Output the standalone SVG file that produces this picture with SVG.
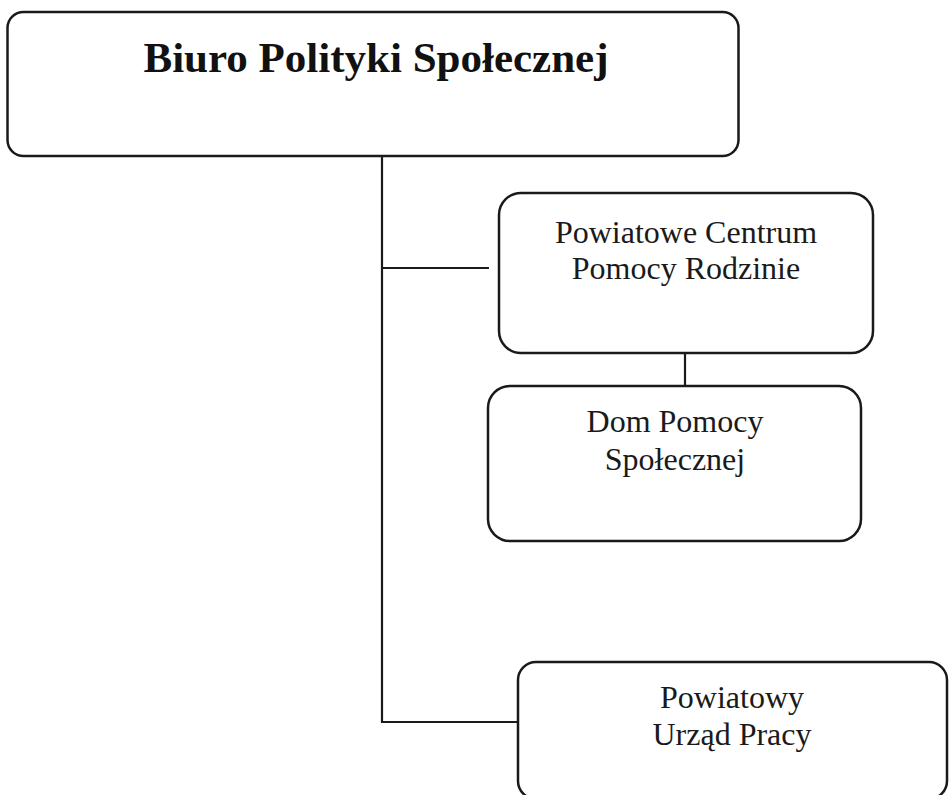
<svg xmlns="http://www.w3.org/2000/svg" width="949" height="795" viewBox="0 0 949 795">
<style>
.box{fill:#fff;stroke:#1a1a1a;stroke-width:2.5}
.ln{stroke:#1a1a1a;stroke-width:2.2;fill:none}
.t{font-family:"Liberation Serif","Times New Roman",serif;font-size:32px;fill:#1a1a1a;text-anchor:middle}
.h{font-family:"Liberation Serif","Times New Roman",serif;font-size:43px;font-weight:bold;fill:#111;text-anchor:middle}
</style>
<rect width="949" height="795" fill="#fff"/>
<g id="connectors">
<line class="ln" x1="382" y1="156" x2="382" y2="723"/>
<line class="ln" x1="382" y1="268" x2="489" y2="268"/>
<line class="ln" x1="382" y1="722" x2="519" y2="722"/>
<line class="ln" x1="685" y1="353" x2="685" y2="386"/>
</g>
<g id="biuro">
<rect class="box" x="7.5" y="12" width="731" height="144" rx="16"/>
<text class="h" x="376" y="72">Biuro Polityki Społecznej</text>
</g>
<g id="pcpr">
<rect class="box" x="499" y="193" width="374" height="160" rx="22"/>
<text class="t" x="686" y="243">Powiatowe Centrum</text>
<text class="t" x="686" y="279">Pomocy Rodzinie</text>
</g>
<g id="dps">
<rect class="box" x="488" y="386" width="373" height="155" rx="22"/>
<text class="t" x="675" y="432">Dom Pomocy</text>
<text class="t" x="675" y="470">Społecznej</text>
</g>
<g id="pup">
<rect class="box" x="518" y="662" width="429" height="137" rx="18"/>
<text class="t" x="732" y="708">Powiatowy</text>
<text class="t" x="732" y="745">Urząd Pracy</text>
</g>
</svg>
